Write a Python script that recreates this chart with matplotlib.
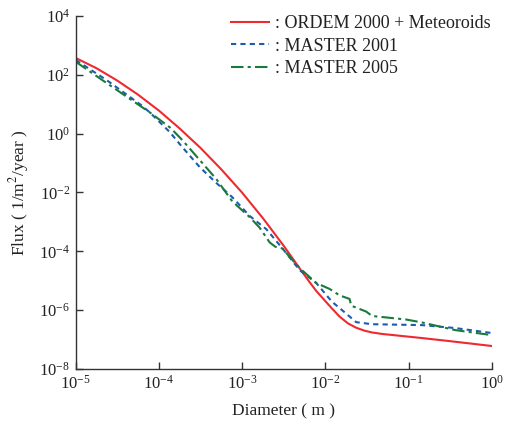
import numpy as np
import matplotlib
matplotlib.use('Agg')
import matplotlib.pyplot as plt

plt.rcParams['font.family'] = ['Liberation Serif', 'DejaVu Serif']
plt.rcParams['mathtext.fontset'] = 'stix'
plt.rcParams['axes.unicode_minus'] = False

# values, as log10(diameter) / log10(flux)
ordem_logd = [-5.0, -4.75, -4.5, -4.25, -4.0, -3.75, -3.5, -3.25, -3.0, -2.75, -2.5,
              -2.31, -2.19, -2.11, -1.92, -1.83, -1.73, -1.63, -1.53, -1.44, -1.32,
              -0.84, -0.52, 0.0]
ordem_logf = [2.57, 2.22, 1.80, 1.32, 0.78, 0.17, -0.49, -1.22, -2.01, -2.88, -3.82,
              -4.58, -5.05, -5.35, -5.95, -6.22, -6.45, -6.60, -6.70, -6.76, -6.81,
              -6.95, -7.05, -7.22]

m01_logd = [-5.0, -4.63, -4.22, -4.11, -3.87, -3.72, -3.51, -3.31, -3.12, -2.91, -2.71,
            -2.52, -2.31, -2.11, -1.92, -1.83, -1.63, -1.44, -0.84, -0.44, 0.0]
m01_logf = [2.50, 1.82, 0.98, 0.72, 0.05, -0.46, -1.14, -1.68, -2.16, -2.80, -3.25,
            -3.89, -4.64, -5.08, -5.72, -5.93, -6.41, -6.48, -6.51, -6.61, -6.78]

m05_logd = [-5.0, -4.63, -4.22, -4.11, -3.86, -3.72, -3.51, -3.31, -3.12, -2.91, -2.79,
            -2.67, -2.60, -2.52, -2.31, -2.11, -1.95, -1.83, -1.71, -1.69, -1.51,
            -1.44, -1.03, -0.84, -0.44, 0.0]
m05_logf = [2.44, 1.72, 0.93, 0.72, 0.19, -0.22, -0.90, -1.55, -2.30, -2.84, -3.20,
            -3.70, -3.85, -3.90, -4.57, -5.08, -5.28, -5.50, -5.62, -5.85, -6.05,
            -6.20, -6.32, -6.42, -6.68, -6.85]

labels = [': ORDEM 2000 + Meteoroids', ': MASTER 2001', ': MASTER 2005']
xticks = [1e-5, 1e-4, 1e-3, 1e-2, 1e-1, 1e0]
yticks = [1e-8, 1e-6, 1e-4, 1e-2, 1e0, 1e2, 1e4]

fig = plt.figure(figsize=(5.05, 4.3), dpi=100)
ax = fig.add_axes([0.150, 0.142, 0.824, 0.821])

ax.plot(10.0 ** np.array(ordem_logd), 10.0 ** np.array(ordem_logf), '-', color='#ee2a2f', lw=1.5, label=labels[0])
ax.plot(10.0 ** np.array(m01_logd), 10.0 ** np.array(m01_logf), '--', color='#1c5cad', lw=1.5,
        dashes=(2.5, 2.0), label=labels[1])
ax.plot(10.0 ** np.array(m05_logd), 10.0 ** np.array(m05_logf), '-.', color='#1a7a3c', lw=1.5,
        dashes=(6, 2, 1.5, 2), label=labels[2])

ax.set_xscale('log')
ax.set_yscale('log')
ax.set_xlim(1e-5, 1)
ax.set_ylim(1e-8, 1e4)
ax.set_xticks(xticks)
ax.set_yticks(yticks)
ax.minorticks_off()
ax.tick_params(direction='in', length=5, width=1, colors='#333333', labelcolor='#222222',
               labelsize=12, pad=4)

for s in ['top', 'right']:
    ax.spines[s].set_visible(False)
for s in ['left', 'bottom']:
    ax.spines[s].set_color('#333333')
    ax.spines[s].set_linewidth(1)

ax.set_xlabel('Diameter ( m )', fontsize=12.5, color='#222222', labelpad=8)
ax.set_ylabel('Flux ( 1/m$^2$/year )', fontsize=12.5, color='#222222', labelpad=6)

leg = ax.legend(loc='upper right', bbox_to_anchor=(1.035, 1.048), frameon=False, fontsize=13,
                handlelength=2.1, handletextpad=0.3, labelspacing=0.3)
for t in leg.get_texts():
    t.set_color('#222222')

fig.savefig('out.png', dpi=100)
